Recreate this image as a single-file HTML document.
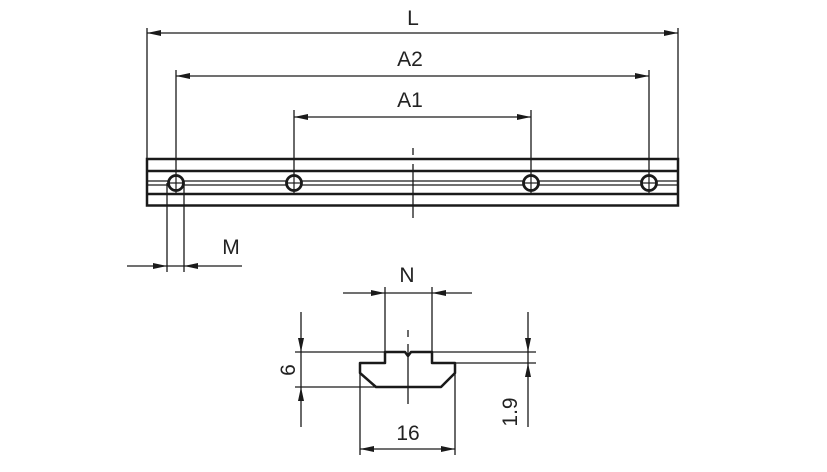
<!DOCTYPE html>
<html><head><meta charset="utf-8"><style>body{margin:0;background:#fff}svg{display:block}text{font-family:"Liberation Sans",sans-serif;fill:#222}</style></head>
<body>
<svg width="827" height="472" viewBox="0 0 827 472" xmlns="http://www.w3.org/2000/svg">
<g stroke="#1a1a1a" fill="none">
<g stroke-width="1.3">
<line x1="147" y1="28" x2="147" y2="159"/>
<line x1="678" y1="28" x2="678" y2="159"/>
<line x1="176" y1="70" x2="176" y2="195"/>
<line x1="649" y1="70" x2="649" y2="195"/>
<line x1="294" y1="110" x2="294" y2="195"/>
<line x1="531" y1="110" x2="531" y2="195"/>
<line x1="147" y1="33" x2="678" y2="33"/>
<line x1="176" y1="76" x2="649" y2="76"/>
<line x1="294" y1="117" x2="531" y2="117"/>
</g>
<g fill="#1a1a1a" stroke="none">
<path d="M147,33l14,-3v6z"/><path d="M678,33l-14,-3v6z"/>
<path d="M176,76l14,-3v6z"/><path d="M649,76l-14,-3v6z"/>
<path d="M294,117l14,-3v6z"/><path d="M531,117l-14,-3v6z"/>
</g>
<rect x="147" y="159" width="531" height="46.5" stroke-width="2.5"/>
<line x1="147" y1="171" x2="678" y2="171" stroke-width="2.5"/>
<line x1="147" y1="181" x2="678" y2="181" stroke-width="1.3"/>
<line x1="147" y1="185" x2="678" y2="185" stroke-width="1.3"/>
<line x1="147" y1="194" x2="678" y2="194" stroke-width="2.5"/>
<g fill="#fff" stroke-width="2.8">
<circle cx="176" cy="183" r="7.5"/><circle cx="294" cy="183" r="7.5"/><circle cx="531" cy="183" r="7.5"/><circle cx="649" cy="183" r="7.5"/>
</g>
<g stroke-width="1.2">
<line x1="168" y1="183" x2="184" y2="183"/><line x1="286" y1="183" x2="302" y2="183"/><line x1="523" y1="183" x2="539" y2="183"/><line x1="641" y1="183" x2="657" y2="183"/>
<line x1="176" y1="175" x2="176" y2="191"/><line x1="294" y1="175" x2="294" y2="191"/><line x1="531" y1="175" x2="531" y2="191"/><line x1="649" y1="175" x2="649" y2="191"/>
</g>
<line x1="413" y1="148" x2="413" y2="155" stroke-width="1.3"/>
<line x1="413" y1="164" x2="413" y2="218" stroke-width="1.3"/>
<g stroke-width="1.3">
<line x1="167" y1="183" x2="167" y2="272"/>
<line x1="184" y1="183" x2="184" y2="272"/>
<line x1="127" y1="266" x2="242" y2="266"/>
</g>
<g fill="#1a1a1a" stroke="none"><path d="M167,266l-14,-3v6z"/><path d="M184,266l14,-3v6z"/></g>
<path d="M385,352H405L408,356L411,352H432V363H455V373L441,387H376L360,373V363H385Z" stroke-width="2.5" stroke-linejoin="round"/>
<line x1="408" y1="330" x2="408" y2="337" stroke-width="1.3"/>
<line x1="408" y1="344" x2="408" y2="404" stroke-width="1.3"/>
<g stroke-width="1.3">
<line x1="385" y1="287" x2="385" y2="352"/>
<line x1="432" y1="287" x2="432" y2="352"/>
<line x1="343" y1="293" x2="472" y2="293"/>
<line x1="295" y1="352" x2="385" y2="352"/>
<line x1="295" y1="387" x2="376" y2="387"/>
<line x1="301" y1="312" x2="301" y2="427"/>
<line x1="432" y1="352" x2="536" y2="352"/>
<line x1="455" y1="363" x2="536" y2="363"/>
<line x1="528" y1="312" x2="528" y2="427"/>
<line x1="360" y1="373" x2="360" y2="455"/>
<line x1="455" y1="373" x2="455" y2="455"/>
<line x1="360" y1="449" x2="455" y2="449"/>
</g>
<g fill="#1a1a1a" stroke="none">
<path d="M385,293l-14,-3v6z"/><path d="M432,293l14,-3v6z"/>
<path d="M301,352l-3,-14h6z"/><path d="M301,387l-3,14h6z"/>
<path d="M528,352l-3,-14h6z"/><path d="M528,363l-3,14h6z"/>
<path d="M360,449l14,-3v6z"/><path d="M455,449l-14,-3v6z"/>
</g>
</g>
<g font-size="21">
<text x="413" y="25" text-anchor="middle">L</text>
<text x="410" y="66" text-anchor="middle">A2</text>
<text x="410" y="107" text-anchor="middle">A1</text>
<text x="231" y="254" text-anchor="middle">M</text>
<text x="407" y="282" text-anchor="middle">N</text>
<text x="408" y="440" text-anchor="middle">16</text>
<text transform="translate(295,370) rotate(-90)" text-anchor="middle">6</text>
<text transform="translate(517,412) rotate(-90)" text-anchor="middle">1.9</text>
</g>
</svg>
</body></html>
